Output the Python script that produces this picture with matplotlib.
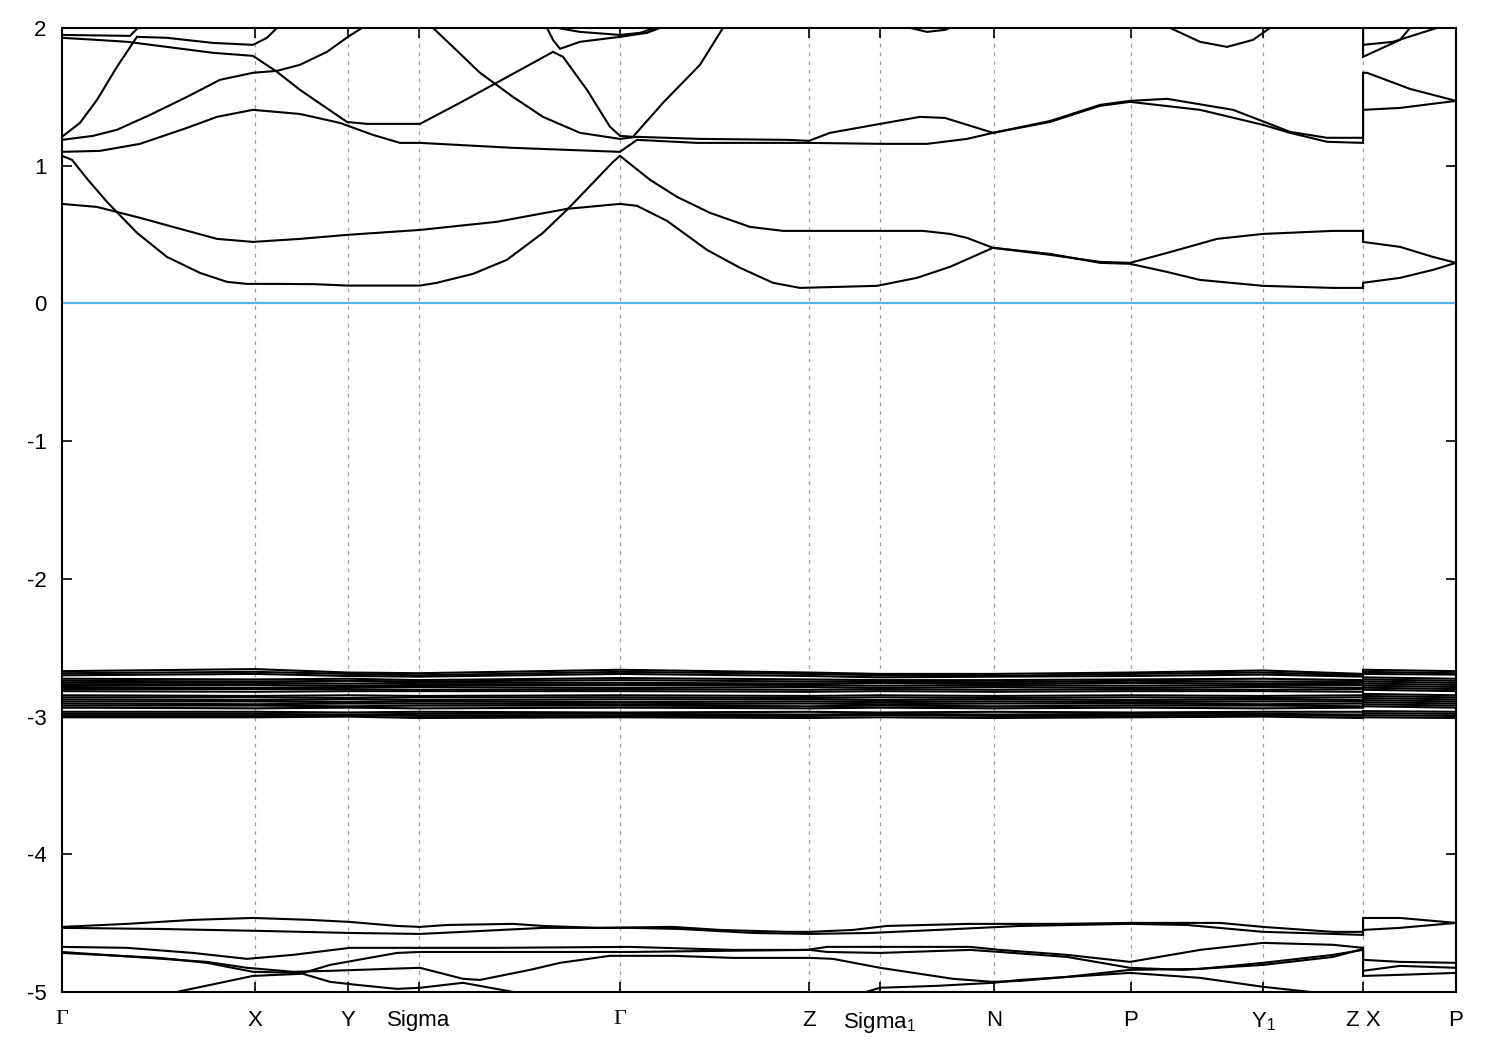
import matplotlib
matplotlib.use("Agg")
import matplotlib.pyplot as plt
from matplotlib.ticker import FixedLocator

plt.rcParams['font.family'] = ['Liberation Sans', 'DejaVu Sans']
plt.rcParams['mathtext.fontset'] = 'custom'
plt.rcParams['mathtext.rm'] = 'Liberation Sans'
plt.rcParams['mathtext.it'] = 'Liberation Sans'
plt.rcParams['mathtext.default'] = 'rm'

# ---- high-symmetry path ----
kticks = [0, 1.93, 2.86, 3.57, 5.58, 7.47, 8.18, 9.32, 10.69, 12.01, 13.01, 13.94]
klabels = ['Γ', 'X', 'Y', 'Sigma', 'Γ', 'Z', 'Sigma$_1$', 'N', 'P', 'Y$_1$', 'Z X', 'P']
yticks = [-5, -4, -3, -2, -1, 0, 1, 2]
ylabels = ['-5', '-4', '-3', '-2', '-1', '0', '1', '2']

# ---- conduction bands ----
kA = [0, 0.10, 0.26, 0.45, 0.75, 1.05, 1.38, 1.65, 1.85, 2.18, 2.53, 2.85, 3.58, 3.75, 4.11, 4.45, 4.81, 5.05, 5.31, 5.51, 5.58,
      5.88, 6.15, 6.48, 6.88, 7.21, 7.48, 8.61, 8.88, 9.05, 9.31, 9.88, 10.38, 10.68, 11.05, 11.55, 12.01, 12.71, 13.01, 13.01, 13.38, 13.71, 13.94]
eA = [1.072, 1.043, 0.898, 0.738, 0.513, 0.338, 0.222, 0.157, 0.142, 0.142, 0.140, 0.130, 0.130, 0.150, 0.215, 0.317, 0.513, 0.680, 0.876, 1.028, 1.072,
      0.898, 0.774, 0.658, 0.556, 0.527, 0.527, 0.527, 0.505, 0.476, 0.404, 0.353, 0.302, 0.295, 0.367, 0.469, 0.505, 0.527, 0.527, 0.447, 0.411, 0.338, 0.295]

kB = [0, 0.35, 0.78, 1.11, 1.55, 1.91, 2.38, 2.85, 3.58, 4.35, 5.05, 5.58, 5.75, 6.05, 6.45, 6.78, 7.11, 7.38, 8.15, 8.55, 8.88, 9.31,
      9.88, 10.38, 10.68, 11.05, 11.38, 12.01, 12.71, 13.01, 13.01, 13.38, 13.71, 13.94]
eB = [0.723, 0.701, 0.622, 0.556, 0.469, 0.447, 0.469, 0.498, 0.534, 0.593, 0.687, 0.723, 0.709, 0.600, 0.389, 0.259, 0.150, 0.113, 0.128, 0.186, 0.266, 0.404,
      0.360, 0.295, 0.288, 0.229, 0.171, 0.128, 0.113, 0.113, 0.150, 0.186, 0.244, 0.295]

kC = [0, 0.38, 0.78, 1.25, 1.55, 1.91, 2.38, 2.78, 3.11, 3.38, 3.58, 4.51, 5.58, 5.75, 6.35, 7.25, 7.47, 8.21, 8.65, 9.05, 9.31,
      9.88, 10.38, 10.68, 11.38, 12.01, 12.28, 12.65, 13.01, 13.01, 13.38, 13.94]
eC = [1.101, 1.108, 1.159, 1.275, 1.355, 1.406, 1.376, 1.311, 1.224, 1.166, 1.166, 1.130, 1.101, 1.188, 1.166, 1.166, 1.166, 1.159, 1.159, 1.195, 1.239,
      1.318, 1.435, 1.464, 1.406, 1.297, 1.239, 1.174, 1.166, 1.406, 1.420, 1.471]

kD = [3.58, 3.71, 3.91, 4.18, 4.51, 4.81, 5.18, 5.58, 5.75, 6.38, 7.25, 7.47, 7.68, 8.18, 8.58, 8.83, 9.31, 9.88, 10.38, 10.68,
      11.05, 11.71, 12.05, 12.28, 12.65, 13.01, 13.01, 13.05, 13.48, 13.94]
eD = [2.096, 2.001, 1.863, 1.675, 1.500, 1.355, 1.239, 1.195, 1.210, 1.195, 1.188, 1.181, 1.239, 1.304, 1.355, 1.347, 1.239, 1.325, 1.442, 1.471,
      1.486, 1.406, 1.311, 1.246, 1.203, 1.203, 1.675, 1.675, 1.558, 1.471]

kE = [0, 0.18, 0.35, 0.55, 0.75, 1.05, 1.51, 1.91, 2.05, 2.15, 2.28]
eE = [1.210, 1.311, 1.478, 1.718, 1.936, 1.929, 1.892, 1.878, 1.929, 2.001, 2.096]

kF = [0, 0.31, 0.55, 0.88, 1.25, 1.58, 1.91, 2.15, 2.38, 2.65, 2.86, 3.00, 3.13]
eF = [1.188, 1.217, 1.261, 1.369, 1.500, 1.624, 1.675, 1.689, 1.733, 1.827, 1.936, 2.001, 2.096]

kG = [0, 0.68, 0.76, 0.83]
eG = [1.950, 1.943, 2.001, 2.070]

kH = [0, 0.35, 0.65, 1.05, 1.51, 1.91, 2.15, 2.38, 2.85, 3.05, 3.58, 3.98, 4.31, 4.91, 5.01, 5.25, 5.48, 5.58, 5.71, 6.01, 6.38, 6.61, 6.71]
eH = [1.929, 1.914, 1.900, 1.863, 1.820, 1.798, 1.682, 1.551, 1.318, 1.304, 1.304, 1.457, 1.588, 1.827, 1.791, 1.551, 1.283, 1.217, 1.210, 1.457, 1.733, 2.001, 2.096]

kI = [4.78, 4.85, 4.91, 4.98, 5.18, 5.58, 5.85, 5.98, 6.08]
eI = [2.096, 2.001, 1.914, 1.849, 1.900, 1.936, 1.965, 2.001, 2.060]

kJ = [4.88, 4.95, 5.18, 5.58, 5.78, 5.93, 6.03]
eJ = [2.096, 2.001, 1.972, 1.950, 1.965, 2.001, 2.060]

kK = [8.33, 8.48, 8.65, 8.83, 8.93, 9.03]
eK = [2.060, 2.001, 1.972, 1.987, 2.016, 2.060]

kL = [10.98, 11.08, 11.38, 11.65, 11.91, 12.08, 12.18]
eL = [2.060, 2.001, 1.900, 1.863, 1.914, 2.001, 2.060]

kM1 = [13.01, 13.01, 13.38, 13.48, 13.58]
eM1 = [2.200, 1.791, 1.914, 2.001, 2.070]

kM2 = [13.01, 13.01, 13.31, 13.75, 13.88]
eM2 = [2.200, 1.878, 1.900, 2.001, 2.060]

# ---- flat band manifold around -2.85 eV (values at every tick, Z and X both at 13.01) ----
knode = [0, 1.93, 2.86, 3.57, 5.58, 7.47, 8.18, 9.32, 10.69, 12.01, 13.01, 13.01, 13.94]
flat_bands = [
    [-2.670, -2.655, -2.680, -2.685, -2.660, -2.680, -2.690, -2.690, -2.680, -2.665, -2.690, -2.660, -2.670],
    [-2.685, -2.675, -2.690, -2.700, -2.675, -2.690, -2.700, -2.705, -2.690, -2.680, -2.700, -2.675, -2.685],
    [-2.700, -2.690, -2.705, -2.710, -2.690, -2.705, -2.715, -2.710, -2.705, -2.695, -2.710, -2.690, -2.695],
    [-2.725, -2.730, -2.725, -2.735, -2.720, -2.730, -2.735, -2.735, -2.730, -2.725, -2.735, -2.715, -2.725],
    [-2.740, -2.745, -2.740, -2.745, -2.735, -2.745, -2.745, -2.750, -2.740, -2.745, -2.745, -2.730, -2.740],
    [-2.755, -2.755, -2.760, -2.755, -2.755, -2.760, -2.755, -2.760, -2.755, -2.760, -2.755, -2.745, -2.755],
    [-2.770, -2.770, -2.775, -2.770, -2.770, -2.770, -2.775, -2.770, -2.775, -2.770, -2.770, -2.760, -2.770],
    [-2.785, -2.790, -2.785, -2.785, -2.790, -2.785, -2.790, -2.785, -2.790, -2.785, -2.790, -2.775, -2.785],
    [-2.800, -2.800, -2.800, -2.805, -2.800, -2.805, -2.800, -2.805, -2.800, -2.805, -2.800, -2.790, -2.800],
    [-2.815, -2.820, -2.815, -2.815, -2.815, -2.820, -2.815, -2.820, -2.815, -2.815, -2.820, -2.805, -2.815],
    [-2.845, -2.850, -2.845, -2.850, -2.845, -2.850, -2.845, -2.850, -2.845, -2.850, -2.845, -2.835, -2.845],
    [-2.860, -2.860, -2.865, -2.860, -2.860, -2.865, -2.860, -2.865, -2.860, -2.865, -2.860, -2.850, -2.860],
    [-2.875, -2.880, -2.875, -2.880, -2.875, -2.875, -2.880, -2.875, -2.880, -2.875, -2.880, -2.865, -2.875],
    [-2.890, -2.890, -2.895, -2.890, -2.895, -2.890, -2.895, -2.890, -2.895, -2.890, -2.890, -2.880, -2.890],
    [-2.905, -2.910, -2.905, -2.905, -2.910, -2.905, -2.910, -2.905, -2.905, -2.910, -2.905, -2.895, -2.905],
    [-2.920, -2.920, -2.925, -2.920, -2.920, -2.925, -2.920, -2.925, -2.920, -2.920, -2.925, -2.910, -2.920],
    [-2.935, -2.940, -2.935, -2.940, -2.935, -2.940, -2.935, -2.940, -2.935, -2.940, -2.935, -2.925, -2.935],
    [-2.965, -2.965, -2.970, -2.965, -2.970, -2.965, -2.970, -2.965, -2.970, -2.965, -2.965, -2.960, -2.965],
    [-2.980, -2.980, -2.985, -2.980, -2.980, -2.985, -2.980, -2.985, -2.980, -2.980, -2.985, -2.975, -2.980],
    [-2.995, -2.995, -2.990, -2.995, -2.995, -2.995, -2.990, -2.995, -2.995, -2.990, -2.995, -2.990, -2.995],
    [-3.005, -3.005, -3.000, -3.010, -3.005, -3.010, -3.005, -3.010, -3.005, -3.000, -3.010, -3.005, -3.010],
]

# ---- lower valence bands ----
ka = [0, 0.65, 1.31, 1.91, 2.48, 2.88, 3.35, 3.58, 3.85, 4.51, 4.81, 5.35, 6.11, 6.58, 7.25, 7.48, 7.91, 8.25, 9.08, 9.95,
      10.68, 11.58, 12.01, 12.71, 13.01, 13.01, 13.38, 13.94]
ea = [-4.527, -4.505, -4.476, -4.462, -4.476, -4.491, -4.520, -4.527, -4.513, -4.505, -4.520, -4.534, -4.527, -4.549, -4.563, -4.563, -4.549, -4.520, -4.505, -4.505,
      -4.498, -4.498, -4.527, -4.563, -4.563, -4.462, -4.462, -4.498]

kb = [0, 0.98, 1.98, 2.88, 3.58, 4.01, 4.81, 5.68, 6.18, 6.91, 7.48, 8.08, 8.75, 9.58, 10.68, 11.25, 12.01, 12.71, 13.01, 13.01, 13.38, 13.94]
eb = [-4.534, -4.542, -4.556, -4.571, -4.578, -4.563, -4.534, -4.534, -4.542, -4.571, -4.578, -4.571, -4.549, -4.520, -4.505, -4.513, -4.563, -4.578, -4.585, -4.549, -4.534, -4.498]

kc = [0, 0.65, 1.31, 1.85, 2.31, 2.88, 3.58, 4.35, 5.68, 6.71, 7.45, 7.65, 9.08, 9.38, 10.05, 10.68, 11.38, 12.01, 12.71, 13.01, 13.01, 13.38, 13.94]
ec = [-4.672, -4.679, -4.716, -4.759, -4.730, -4.679, -4.679, -4.679, -4.672, -4.694, -4.694, -4.672, -4.672, -4.694, -4.730, -4.781, -4.694, -4.643, -4.657, -4.679, -4.766, -4.781, -4.788]

kd = [0, 1.45, 1.85, 2.31, 2.68, 3.58, 4.01, 4.18, 4.68, 4.98, 5.48, 6.11, 6.71, 7.48, 7.71, 8.18, 8.91, 9.31, 9.58, 10.05,
      10.68, 11.38, 12.01, 12.71, 13.01, 13.01, 13.38, 13.94]
ed = [-4.709, -4.781, -4.824, -4.853, -4.846, -4.824, -4.904, -4.912, -4.839, -4.788, -4.737, -4.737, -4.752, -4.752, -4.759, -4.824, -4.904, -4.926, -4.919, -4.890,
      -4.839, -4.832, -4.788, -4.730, -4.694, -4.883, -4.875, -4.861]

ke = [0, 0.98, 1.45, 1.91, 2.38, 2.68, 2.95, 3.35, 3.58, 4.01, 4.51, 4.68]
ee = [-4.716, -4.752, -4.788, -4.853, -4.861, -4.926, -4.948, -4.977, -4.969, -4.933, -4.999, -5.035]

ke2 = [7.88, 8.18, 8.75, 9.31, 9.58, 10.68, 11.38, 12.01, 12.48, 12.68]
ee2 = [-5.035, -4.969, -4.955, -4.933, -4.912, -4.861, -4.897, -4.962, -4.999, -5.028]

kf = [0.98, 1.15, 1.91, 2.38, 2.68, 3.35, 3.58, 5.68, 6.58, 7.48, 7.65, 8.18, 9.08, 9.38, 10.05, 10.68, 11.21, 12.01, 12.71, 13.01, 13.01, 13.38, 13.94]
ef = [-5.060, -4.999, -4.883, -4.868, -4.803, -4.716, -4.709, -4.709, -4.701, -4.694, -4.709, -4.716, -4.694, -4.709, -4.745, -4.824, -4.839, -4.803, -4.745, -4.687, -4.846, -4.810, -4.824]

bands = [(kA, eA), (kB, eB), (kC, eC), (kD, eD), (kE, eE), (kF, eF), (kG, eG), (kH, eH),
         (kI, eI), (kJ, eJ), (kK, eK), (kL, eL), (kM1, eM1), (kM2, eM2),
         (ka, ea), (kb, eb), (kc, ec), (kd, ed), (ke, ee), (ke2, ee2), (kf, ef)]
bands += [(knode, fb) for fb in flat_bands]

fermi = 0.0

# ---- figure ----
fig = plt.figure(figsize=(15, 10.5), dpi=100)
ax = fig.add_axes([0.0413, 0.0552, 0.9294, 0.9181])

for kk in kticks[1:-1]:
    ax.axvline(kk, color='#a0a0a0', lw=0.9, ls=(0, (3, 4)), zorder=1)

ax.axhline(fermi, color='#56b4e9', lw=1.6, zorder=2)

for kk, ee_ in bands:
    ax.plot(kk, ee_, color='black', lw=1.5, zorder=3, solid_joinstyle='miter')

ax.set_xlim(kticks[0], kticks[-1])
ax.set_ylim(-5, 2)

ax.xaxis.set_major_locator(FixedLocator(kticks))
ax.set_xticklabels(klabels)
ax.yaxis.set_major_locator(FixedLocator(yticks))
ax.set_yticklabels(ylabels)

ax.tick_params(axis='both', which='major', direction='in', length=7.5, width=1.2,
               top=True, right=True, labelsize=16, colors='black')
ax.tick_params(axis='x', pad=13)
ax.tick_params(axis='y', pad=11)

for lab in ax.get_xticklabels():
    if lab.get_text() == 'Γ':
        lab.set_fontfamily(['Liberation Serif', 'DejaVu Serif'])

for sp in ax.spines.values():
    sp.set_linewidth(1.5)

fig.savefig('out.png', dpi=100)
